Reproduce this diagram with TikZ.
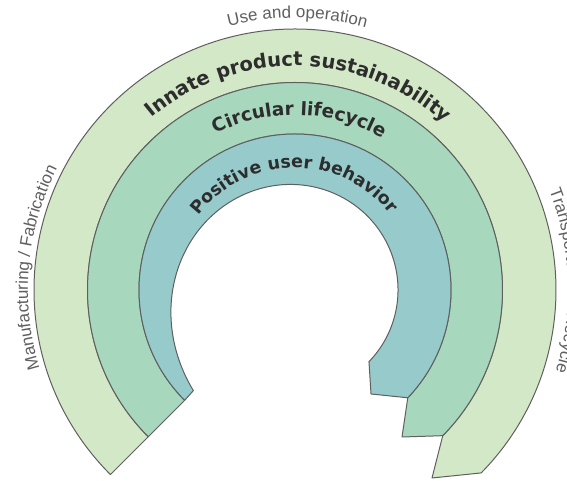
\documentclass[tikz,border=0pt]{standalone}
\usepackage{fontspec}
\setmainfont{Liberation Sans}
\newfontfamily\bandfont{DejaVu Sans}
\usetikzlibrary{calc,decorations.text}

\definecolor{ringouter}{RGB}{211,232,199}
\definecolor{ringmid}{RGB}{167,216,189}
\definecolor{ringinner}{RGB}{151,202,203}
\definecolor{ringline}{RGB}{95,95,95}
\definecolor{bandtext}{RGB}{45,45,45}
\definecolor{phasetext}{RGB}{95,95,95}

\tikzset{
  ring/.style={draw=ringline, line width=1pt, line join=round},
  curvedtext/.style={decorate, decoration={text along path, text align=center, text={#1}}}
}

\begin{document}
\begin{tikzpicture}[x=1pt,y=1pt]
\useasboundingbox (0,0) rectangle (567,481);
\coordinate (C) at (295,191);

% outer band
\draw[ring, fill=ringouter]
  ($(C)+(225:261)$) arc[start angle=225, end angle=-44.5, radius=261]
  -- (432,3) -- ($(C)+(-44.6:207.5)$)
  arc[start angle=-44.6, end angle=225, radius=207.5] -- cycle;

% middle band
\draw[ring, fill=ringmid]
  ($(C)+(225:207.5)$) arc[start angle=225, end angle=-44.6, radius=207.5]
  -- (402,44) -- ($(C)+(-43.7:156)$)
  arc[start angle=-43.7, end angle=225, radius=156] -- cycle;

% inner band, its inner edge widening towards the left end
\draw[ring, fill=ringinner]
  ($(C)+(225:156)$) arc[start angle=225, end angle=-43.7, radius=156]
  -- (371,87) -- (369,119)
  -- plot[domain=-44.2:224.7, samples=140, variable=\t]
     ({295+(103+40*((\t+44.2)/268.9)^4)*cos(\t)},
      {191+(103+40*((\t+44.2)/268.9)^4)*sin(\t)})
  -- cycle;

% band titles
\path[curvedtext={|\color{bandtext}\bandfont\bfseries\fontsize{19.5}{20}\selectfont|Innate product sustainability}]
  ($(C)+(179:224)$) arc[start angle=179, end angle=-1, radius=224];
\path[curvedtext={|\color{bandtext}\bandfont\bfseries\fontsize{18.5}{19}\selectfont|Circular lifecycle}]
  ($(C)+(178.5:175)$) arc[start angle=178.5, end angle=-1.5, radius=175];
\path[curvedtext={|\color{bandtext}\bandfont\bfseries\fontsize{17.5}{18}\selectfont|Positive user behavior}]
  ($(C)+(180.5:122)$) arc[start angle=180.5, end angle=0.5, radius=122];

% lifecycle phases around the rings
\path[curvedtext={|\color{phasetext}\fontsize{17}{17}\selectfont|Use and operation}]
  ($(C)+(179.5:272)$) arc[start angle=179.5, end angle=-0.5, radius=272];
\path[curvedtext={|\color{phasetext}\fontsize{17}{17}\selectfont|Manufacturing / Fabrication}]
  ($(C)+(245:267)$) arc[start angle=245, end angle=105, radius=267];
\path[curvedtext={|\color{phasetext}\fontsize{17}{17}\selectfont|Transportation / Recycle}]
  ($(C)+(62:273)$) arc[start angle=62, end angle=-58, radius=273];
\end{tikzpicture}
\end{document}
